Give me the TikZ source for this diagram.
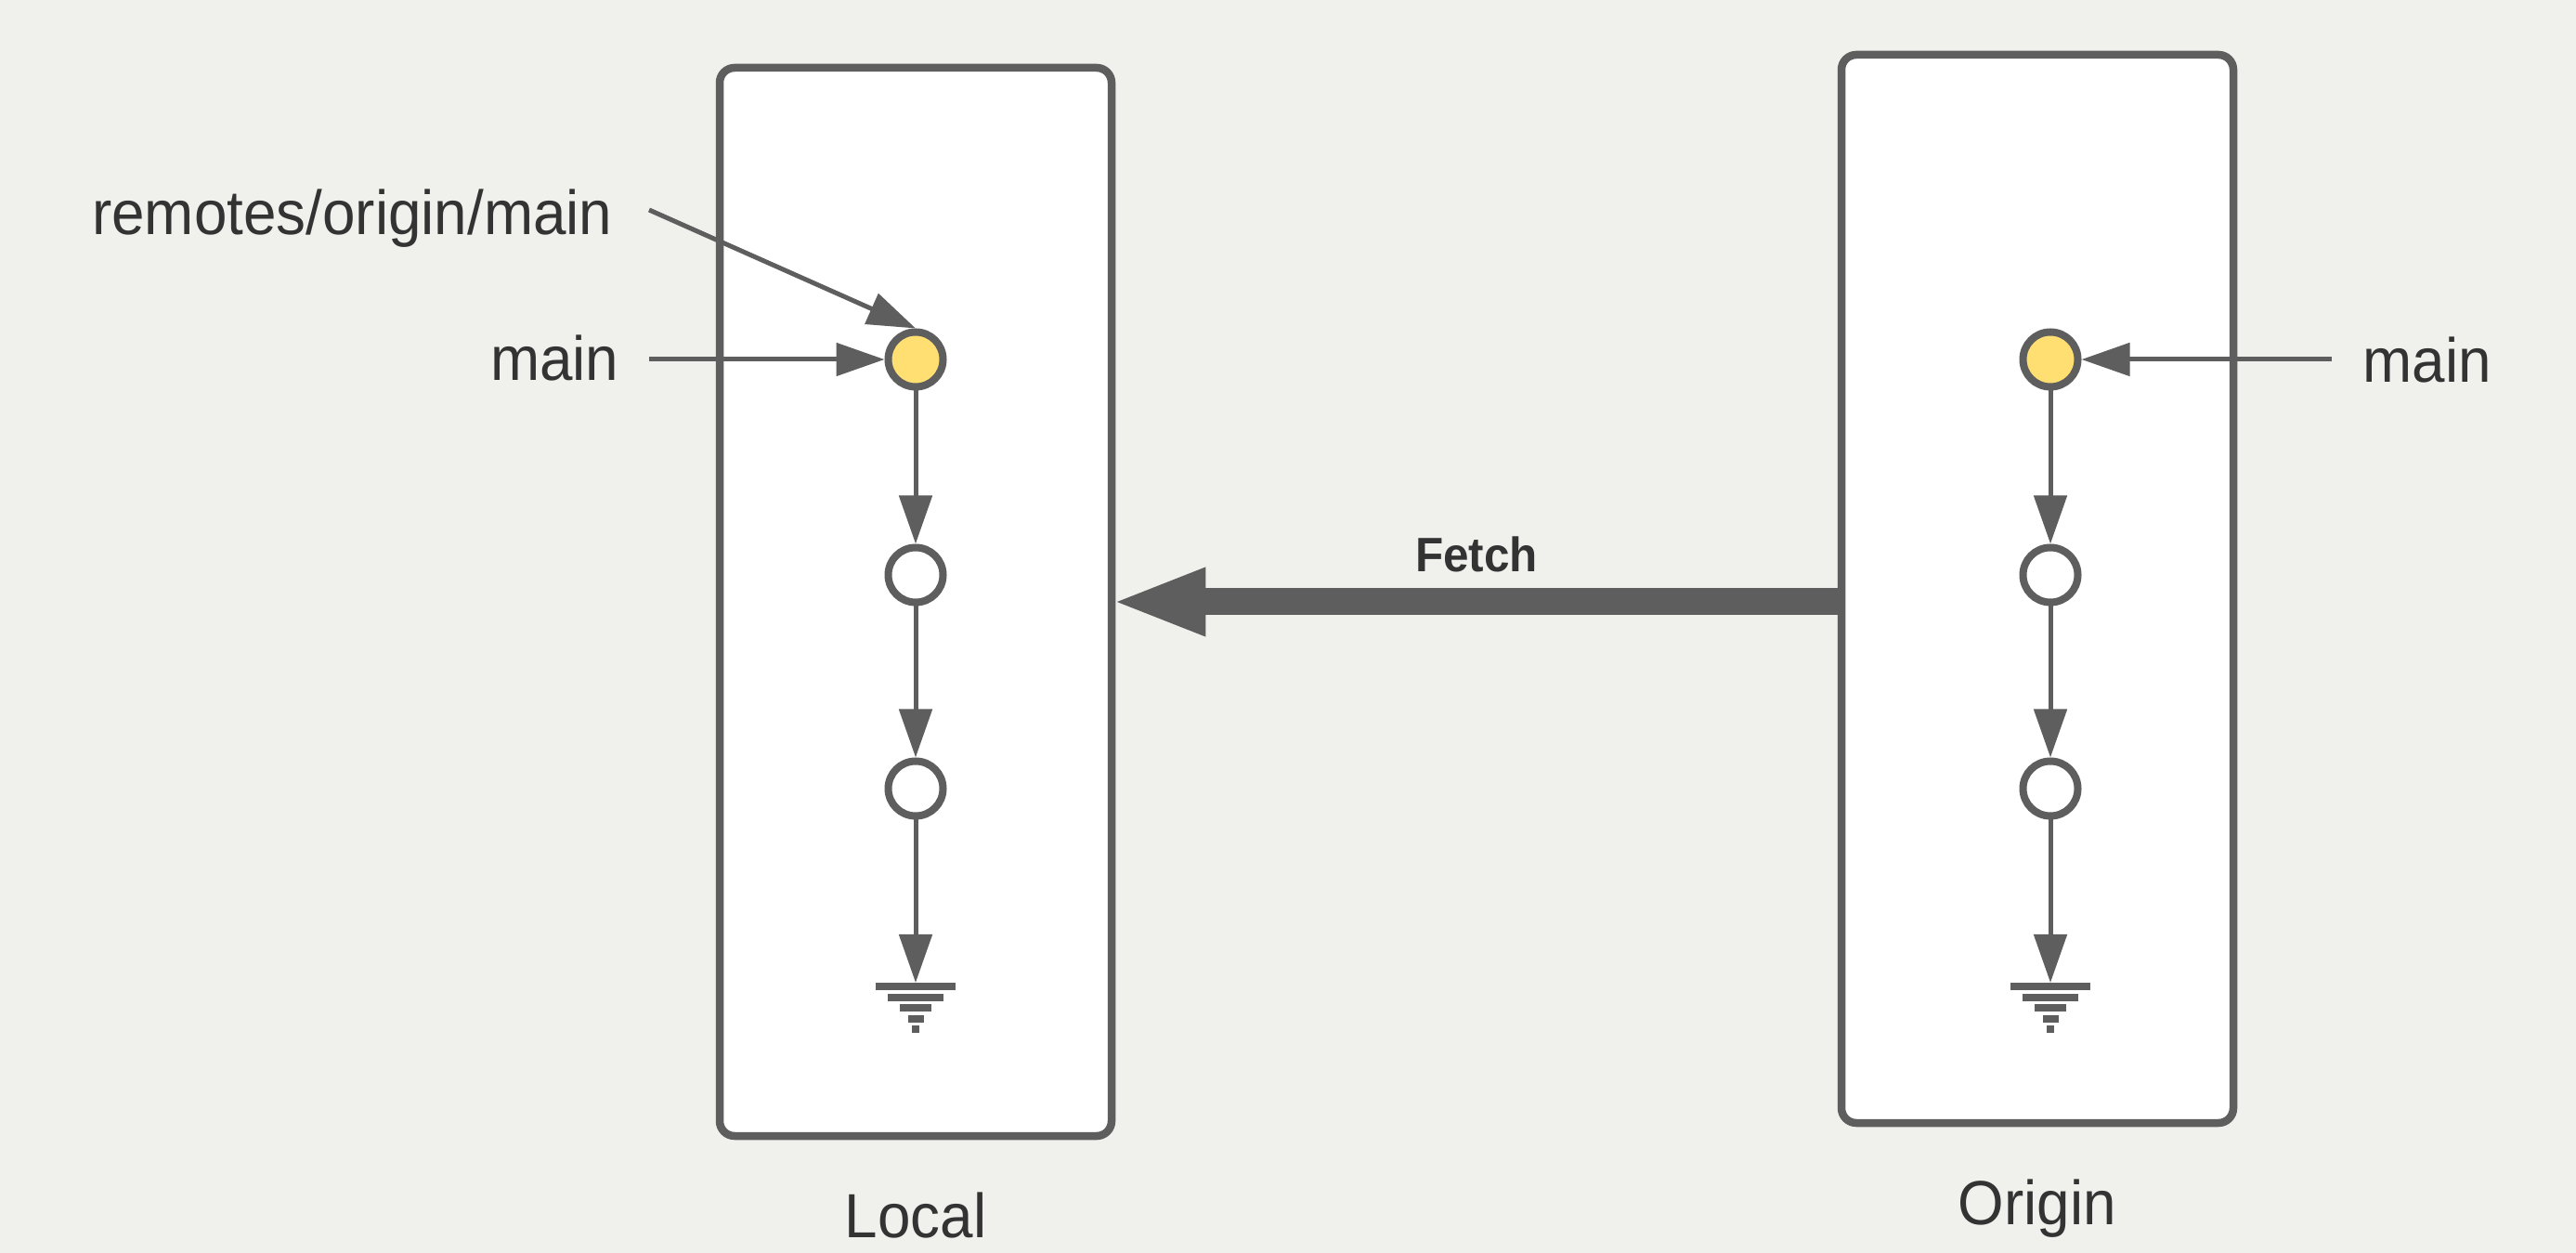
\documentclass[tikz,border=0pt]{standalone}
\usepackage{fontspec}
\setmainfont{Liberation Sans}[FakeStretch=0.95]
\usepackage{tikz}
\usetikzlibrary{arrows.meta,positioning,calc}
\definecolor{bggray}{HTML}{F0F0EC}
\definecolor{linegray}{HTML}{5E5E5E}
\definecolor{txtgray}{HTML}{333333}
\definecolor{headyellow}{HTML}{FFDF71}

\begin{document}
\begin{tikzpicture}[x=1cm,y=-1cm,
  repo/.style={draw=linegray,line width=0.085cm,rounded corners=0.16cm,fill=white,
    minimum width=4.22cm,minimum height=11.5cm,inner sep=0pt},
  commit/.style={circle,draw=linegray,line width=0.08cm,fill=white,minimum size=0.59cm,inner sep=0pt},
  head/.style={commit,fill=headyellow},
  link/.style={draw=linegray,line width=0.05cm,-{Triangle[length=0.52cm,width=0.35cm]}},
  lbl/.style={text=txtgray,font=\fontsize{19.1pt}{22pt}\selectfont,inner sep=0pt}]
  \fill[bggray] (0,0) rectangle (27.74,13.49);
  \useasboundingbox (0,0) rectangle (27.74,13.49);
  % repositories
  \node[repo] (local) at (9.86,6.48) {};
  \node[repo] (origin) at (21.94,6.34) {};
  \node[lbl,anchor=base] (locallbl) at (9.86,13.32) {Local};
  \node[lbl,anchor=base] (originlbl) at (21.94,13.18) {Origin};
  % local history
  \node[head] (l1) at (9.86,3.87) {};
  \node[commit] (l2) at (9.86,6.19) {};
  \node[commit] (l3) at (9.86,8.49) {};
  \coordinate (lroot) at (9.86,10.58);
  % origin history
  \node[head] (o1) at (22.08,3.87) {};
  \node[commit] (o2) at (22.08,6.19) {};
  \node[commit] (o3) at (22.08,8.49) {};
  \coordinate (oroot) at (22.08,10.58);
  \foreach \a/\b in {l1/l2,l2/l3,l3/lroot,o1/o2,o2/o3,o3/oroot}
    \draw[link] (\a) -- (\b);
  % root marks
  \foreach \r in {lroot,oroot}
    \foreach \w [count=\i from 0] in {0.86,0.60,0.34,0.17,0.08}
      \fill[linegray] ($(\r)+(-\w/2,0.115*\i)$) rectangle ++(\w,0.08);
  % refs
  \node[lbl,anchor=base east] (rom) at (6.60,2.53) {remotes/origin/main};
  \coordinate (romtail) at (6.99,2.26);
  \draw[link] (romtail) -- (l1.north);
  \node[lbl,anchor=base east] (lmain) at (6.67,4.10) {main};
  \coordinate (lmaintail) at (6.99,3.87);
  \draw[link] (lmaintail) -- (l1);
  \node[lbl,anchor=base west] (omain) at (25.44,4.12) {main};
  \coordinate (omaintail) at (25.11,3.87);
  \draw[link] (omaintail) -- (o1);
  % fetch
  \draw[linegray,line width=0.29cm,shorten >=-0.05cm,-{Triangle[length=1.02cm,width=0.66cm]}]
    (origin.west |- local.east) -- (local.east);
  \node[text=txtgray,font=\fontsize{14.8pt}{17pt}\selectfont\bfseries,anchor=base] (fetchlbl)
    at (15.90,6.16) {Fetch};
\end{tikzpicture}
\end{document}
